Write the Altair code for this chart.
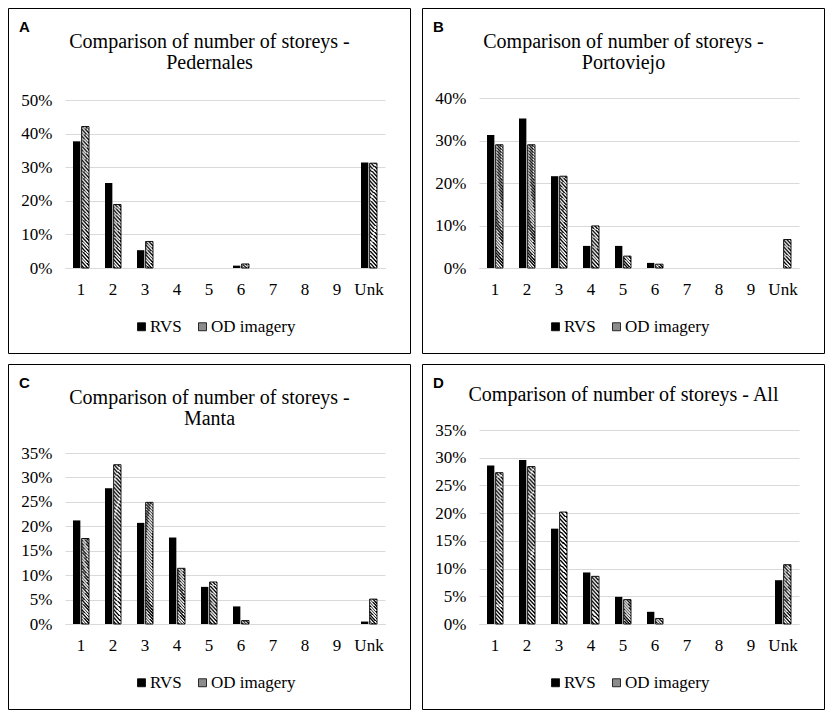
import math
import altair as alt
import pandas as pd

# ---------------- data (percent of buildings) ----------------
storeys = ["1", "2", "3", "4", "5", "6", "7", "8", "9", "Unk"]
series_names = ["RVS", "OD imagery"]

ped_rvs = [37.7, 25.3, 5.3, 0, 0, 0.7, 0, 0, 0, 31.4]
ped_od = [42.1, 18.9, 7.9, 0, 0, 1.2, 0, 0, 0, 31.2]

por_rvs = [31.3, 35.2, 21.6, 5.2, 5.2, 1.2, 0, 0, 0, 0]
por_od = [29.0, 29.0, 21.6, 9.9, 2.8, 0.9, 0, 0, 0, 6.7]

man_rvs = [21.2, 27.8, 20.7, 17.7, 7.6, 3.6, 0, 0, 0, 0.5]
man_od = [17.5, 32.6, 24.9, 11.4, 8.6, 0.7, 0, 0, 0, 5.1]

all_rvs = [28.6, 29.6, 17.2, 9.3, 4.9, 2.2, 0, 0, 0, 7.9]
all_od = [27.3, 28.4, 20.2, 8.6, 4.4, 1.0, 0, 0, 0, 10.7]

# ---------------- style ----------------
SERIF = "Liberation Serif"
SANS = "Liberation Sans"
GRID = "#d9d9d9"

PANEL_W = 403
PANEL_H = 346
LEFT = 57          # border -> plot left
PLOT_W = 320
BOTTOM = 86        # plot bottom -> border bottom
PB = PANEL_H - BOTTOM   # plot bottom measured from the border top

BAR_W = 7.4        # approx. bar width in px (used only to pick hatch density)
SPACING = 2.4      # target hatch line spacing in px
EDGES = [0, 10, 15, 22, 33, 50, 75, 112, 170, 260]   # bar-height buckets (px)


def hatch_gradient(n_lines, black=0.47):
    # radial gradient with a far-away centre -> near-straight diagonal stripes
    cx, cy = -9.5, 10.5
    r_lo, r_hi, r_out = 13.40, 14.90, 15.0
    period = (r_hi - r_lo) / n_lines
    stops = [{"offset": 0, "color": "white"}]
    for i in range(n_lines):
        a = round((r_lo + i * period) / r_out, 5)
        m = round((r_lo + (i + black) * period) / r_out, 5)
        stops += [
            {"offset": a, "color": "white"},
            {"offset": a, "color": "black"},
            {"offset": m, "color": "black"},
            {"offset": m, "color": "white"},
        ]
    stops.append({"offset": 1, "color": "white"})
    return {"gradient": "radial", "x1": cx, "y1": cy, "r1": 0,
            "x2": cx, "y2": cy, "r2": r_out, "stops": stops}


HATCHES = []
for lo, hi in zip(EDGES[:-1], EDGES[1:]):
    s_rep = math.sqrt(max(lo, BAR_W) * hi)
    HATCHES.append(hatch_gradient(max(3, round(1.5 * s_rep / SPACING))))


def hatch_fill(ymax, plot_h):
    ppu = plot_h / ymax
    conds = []
    for hi, grad in zip(EDGES[1:-1], HATCHES[:-1]):
        conds.append({"test": f"datum.value <= {hi / ppu:.4f}", "value": grad})
    return alt.FillValue(value=HATCHES[-1], condition=conds)


def panel(letter, title_lines, rvs, od, ymax, ystep, top, title_offset):
    plot_h = PB - top
    df = pd.DataFrame({
        "storey": storeys * 2,
        "series": ["RVS"] * len(storeys) + ["OD imagery"] * len(storeys),
        "value": rvs + od,
    })
    one = pd.DataFrame({"k": [0]})

    x = alt.X("storey:N",
              scale=alt.Scale(domain=storeys, paddingInner=0.5, paddingOuter=0.25),
              axis=alt.Axis(title=None, labelAngle=0, labelFont=SERIF, labelFontSize=17,
                            labelColor="black", ticks=False, domainColor=GRID,
                            domainWidth=1, labelPadding=13))
    xo = alt.XOffset("series:N", scale=alt.Scale(domain=series_names, paddingInner=0.15))
    y = alt.Y("value:Q",
              scale=alt.Scale(domain=[0, ymax], nice=False, range=[PB, top]),
              axis=alt.Axis(title=None, values=list(range(0, ymax + 1, ystep)),
                            labelExpr="datum.value + '%'", labelFont=SERIF,
                            labelFontSize=17, labelColor="black", grid=True,
                            gridColor=GRID, gridWidth=1, domain=False, ticks=False,
                            labelPadding=13))

    bars = alt.Chart(df).mark_bar().encode(
        x=x, xOffset=xo, y=y,
        color=alt.Color("series:N",
                        scale=alt.Scale(domain=series_names, range=["black", "#8c8c8c"]),
                        legend=alt.Legend(title=None, orient="none", direction="horizontal",
                                          legendX=68, legendY=PB + 50,
                                          symbolType="square", symbolSize=64,
                                          symbolStrokeColor="black", symbolStrokeWidth=0.8,
                                          labelFont=SERIF, labelFontSize=17,
                                          labelColor="black", labelOffset=0,
                                          columnPadding=12)),
    )
    hatched = alt.Chart(df).transform_filter(
        "datum.series == 'OD imagery' && datum.value > 0"
    ).mark_bar(stroke="black", strokeWidth=0.9).encode(
        x=x, xOffset=xo, y=y, fill=hatch_fill(ymax, plot_h)
    )

    frame = alt.Chart(one).mark_rect(fillOpacity=0, stroke="black", strokeWidth=1).encode(
        x=alt.value(-LEFT + 0.5), x2=alt.value(PANEL_W - LEFT - 0.5),
        y=alt.value(0.5), y2=alt.value(PANEL_H - 0.5),
    )
    tag = alt.Chart(one).mark_text(text=letter, font=SANS, fontWeight="bold", fontSize=15,
                                   align="left", baseline="top", color="black").encode(
        x=alt.value(-LEFT + 11), y=alt.value(12)
    )
    return alt.layer(frame, bars, hatched, tag).properties(
        width=PLOT_W, height=PB,
        title=alt.Title(title_lines, font=SERIF, fontSize=20, fontWeight="normal",
                        color="black", anchor="middle", frame="bounds",
                        baseline="top", offset=title_offset, lineHeight=21),
    )


pA = panel("A", ["Comparison of number of storeys -", "Pedernales"], ped_rvs, ped_od, 50, 10, 92, -65)
pB = panel("B", ["Comparison of number of storeys -", "Portoviejo"], por_rvs, por_od, 40, 10, 90, -65)
pC = panel("C", ["Comparison of number of storeys -", "Manta"], man_rvs, man_od, 35, 5, 89, -65)
pD = panel("D", ["Comparison of number of storeys - All"], all_rvs, all_od, 35, 5, 66, -41)

row1 = alt.hconcat(pA, pB, spacing=11).resolve_scale(x="independent", y="independent", color="independent")
row2 = alt.hconcat(pC, pD, spacing=11).resolve_scale(x="independent", y="independent", color="independent")

chart = alt.vconcat(row1, row2, spacing=10).resolve_scale(
    x="independent", y="independent", color="independent"
).properties(padding=0).configure_view(stroke=None)

chart.save("out.html", embed_options={"renderer": "svg", "actions": False})
